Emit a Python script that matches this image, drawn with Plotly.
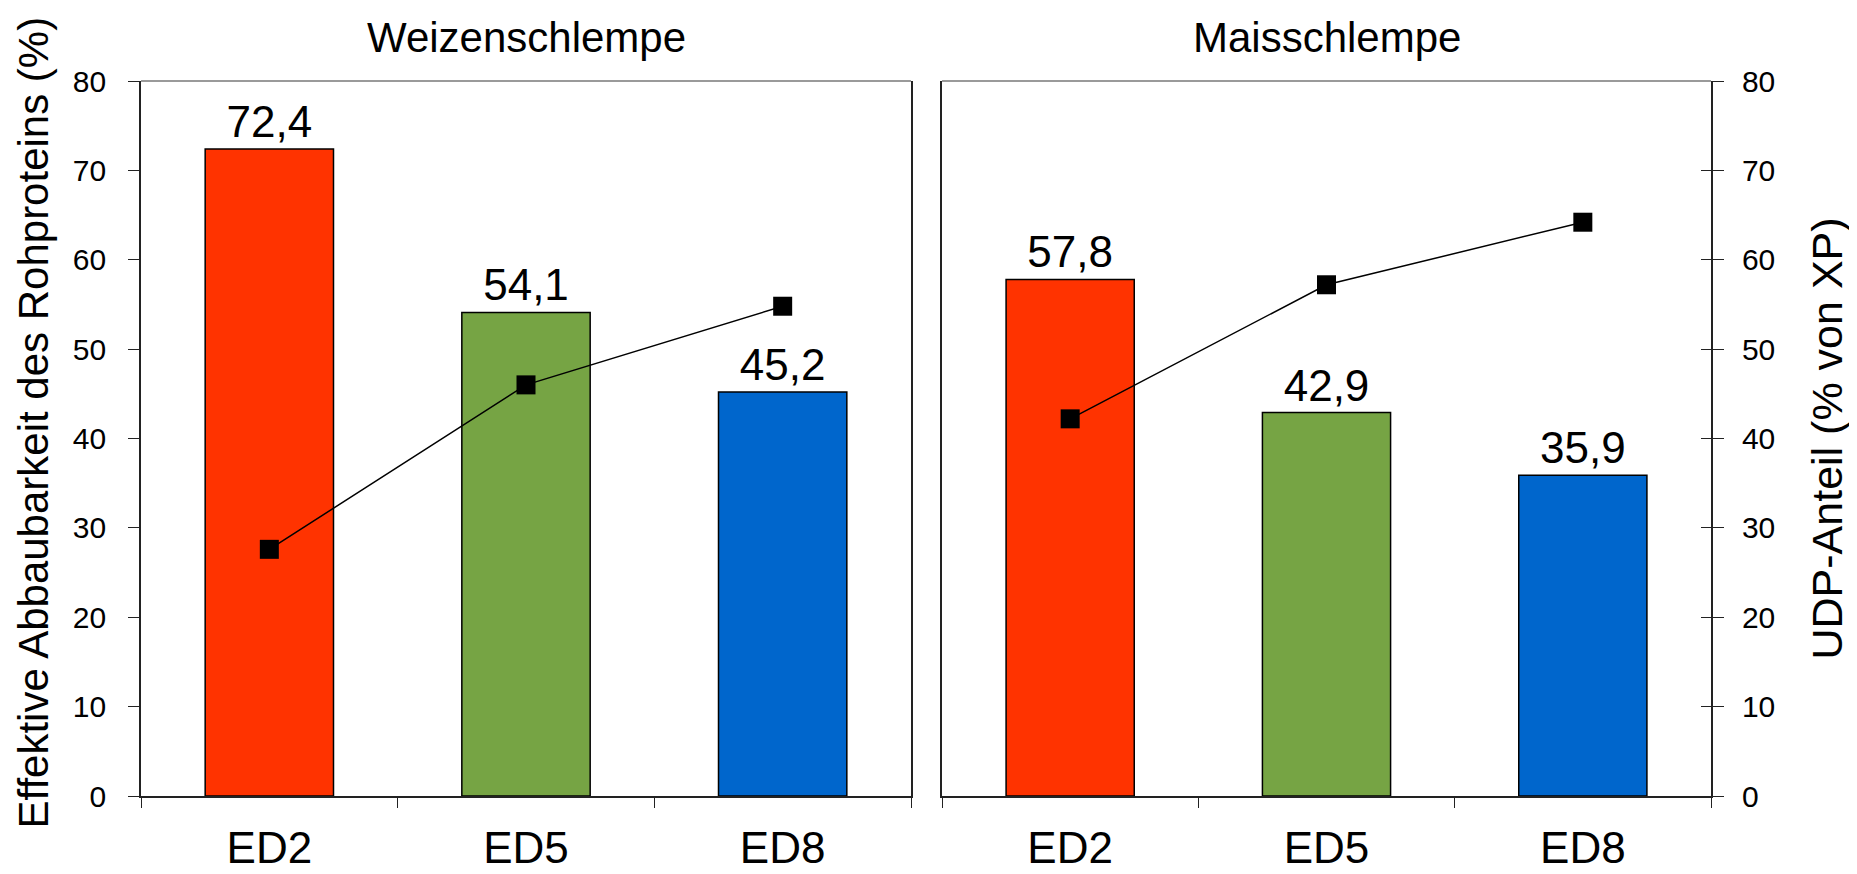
import plotly.graph_objects as go

categories = ["ED2", "ED5", "ED8"]
panel_titles = ["Weizenschlempe", "Maisschlempe"]
wheat_ed = [72.4, 54.1, 45.2]
corn_ed = [57.8, 42.9, 35.9]
wheat_udp = [27.6, 46.0, 54.8]
corn_udp = [42.2, 57.2, 64.2]
bar_colors = ["#FF3300", "#76A444", "#0066CC"]
y_ticks = [0, 10, 20, 30, 40, 50, 60, 70, 80]
left_title = "Effektive Abbaubarkeit des Rohproteins (%)"
right_title = "UDP-Anteil (% von XP)"

FONT = "Liberation Sans, Arial, sans-serif"
# page body has an 8px default margin -> figure is offset by 8px
OFF = 8
W, H = 1857 - OFF, 874 - OFF
ML, MT = 141 - OFF, 81 - OFF
MR = W - (1711 - OFF)
MB = H - (796 - OFF)
PW = W - ML - MR
AXC = "#222222"

fig = go.Figure()

for i, (ed, udp) in enumerate([(wheat_ed, wheat_udp), (corn_ed, corn_udp)]):
    xa = "x" if i == 0 else "x2"
    ya = "y" if i == 0 else "y2"
    fig.add_trace(go.Bar(
        x=categories, y=ed, xaxis=xa, yaxis=ya,
        marker=dict(color=bar_colors, line=dict(color="black", width=1.5)),
        width=0.5,
        texttemplate="%{y:.1f}", textposition="outside",
        textfont=dict(size=44, color="black", family=FONT),
        cliponaxis=False, showlegend=False, hoverinfo="skip",
    ))
    fig.add_trace(go.Scatter(
        x=categories, y=udp, xaxis=xa, yaxis=ya, mode="lines+markers",
        line=dict(color="black", width=1.5),
        marker=dict(symbol="square", size=19, color="black"),
        showlegend=False, cliponaxis=False, hoverinfo="skip",
    ))

# dummy trace to make the inner-tick axis render
fig.add_trace(go.Scatter(x=categories, y=[None, None, None], xaxis="x2", yaxis="y3",
                         showlegend=False, hoverinfo="skip"))

xcommon = dict(type="category", range=[-0.5, 2.5], tickson="boundaries",
               ticks="outside", ticklen=10, tickwidth=1.2, tickcolor=AXC,
               showline=True, linecolor=AXC, linewidth=1.8, showgrid=False,
               tickfont=dict(size=44, color="black", family=FONT),
               ticklabelstandoff=12, fixedrange=True, automargin=False)
ycommon = dict(range=[0, 80], tickvals=y_ticks, ticks="outside", ticklen=11,
               tickwidth=1.2, tickcolor=AXC, showline=True, linecolor=AXC,
               linewidth=1.8, mirror=True, showgrid=False, zeroline=False,
               tickfont=dict(size=30, color="black", family=FONT), fixedrange=True,
               automargin=False)

d1 = (911 - 141) / PW
d2 = (942 - 141) / PW

fig.update_layout(
    width=W, height=H,
    margin=dict(l=ML, r=MR, t=MT, b=MB, autoexpand=False),
    paper_bgcolor="white", plot_bgcolor="white",
    separators=",.",
    font=dict(family=FONT, color="black"),
    bargap=0.5,
    xaxis=dict(domain=[0, d1], anchor="y", **xcommon),
    xaxis2=dict(domain=[d2, 1], anchor="y2", **xcommon),
    yaxis=dict(anchor="x", side="left", ticklabelstandoff=16, **ycommon),
    yaxis2=dict(anchor="x2", side="right", ticklabelstandoff=12, **ycommon),
    yaxis3=dict(anchor="x2", side="right", overlaying="y2", range=[0, 80],
                tickvals=y_ticks, ticks="inside", ticklen=10, tickwidth=1.2,
                tickcolor=AXC, showticklabels=False, showline=False,
                showgrid=False, zeroline=False, fixedrange=True, automargin=False),
)

# gray top borders
for xr, yr in [("x domain", "y domain"), ("x2 domain", "y2 domain")]:
    fig.add_shape(type="line", xref=xr, yref=yr, x0=0, x1=1, y0=1, y1=1,
                  line=dict(color="#9a9a9a", width=1.8))

# panel titles
for xr, t in [("x domain", panel_titles[0]), ("x2 domain", panel_titles[1])]:
    fig.add_annotation(xref=xr, yref="paper", x=0.5, y=1, yshift=44,
                       text=t, showarrow=False, yanchor="middle",
                       font=dict(size=42, color="black", family=FONT))

# axis titles
fig.add_annotation(xref="paper", yref="paper", x=0, xshift=-(ML - (33 - OFF)), y=0.5,
                   yshift=16, text=left_title, textangle=-90, showarrow=False,
                   xanchor="center", yanchor="middle",
                   font=dict(size=42, color="black", family=FONT))
fig.add_annotation(xref="paper", yref="paper", x=1, xshift=(1826 - OFF) - (W - MR), y=0.5,
                   text=right_title, textangle=-90, showarrow=False,
                   xanchor="center", yanchor="middle",
                   font=dict(size=43, color="black", family=FONT))

fig.write_html("out.html")
